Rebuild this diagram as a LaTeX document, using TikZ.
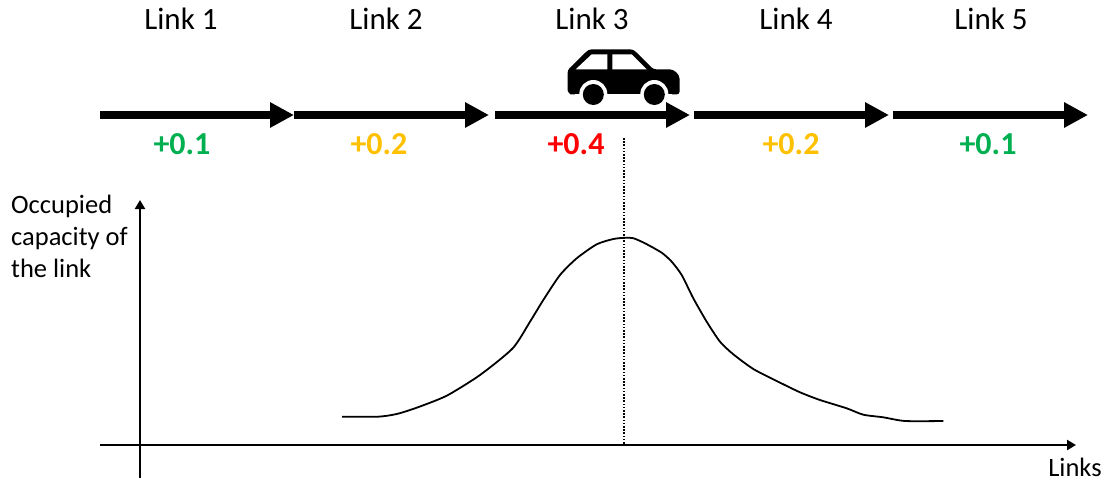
\documentclass[tikz,border=0pt]{standalone}
\usepackage{fontspec}
\setmainfont{Carlito}
\usetikzlibrary{arrows.meta}
\definecolor{lgreen}{HTML}{00B050}
\definecolor{lamber}{HTML}{FFC000}
\definecolor{lred}{HTML}{FF0000}
\tikzset{
  linkarrow/.style={line width=8pt,-{Triangle[length=24pt,width=24pt]}},
  axisarrow/.style={line width=2.4pt,-{Triangle[length=9pt,width=10pt]}},
  linklabel/.style={font=\fontsize{31}{36}\selectfont,inner sep=0pt,anchor=center},
  loadlabel/.style={font=\fontsize{32}{36}\selectfont\bfseries,inner sep=0pt,anchor=center},
  axislabel/.style={font=\fontsize{26.5}{32}\selectfont,inner sep=0pt},
}
\begin{document}
\begin{tikzpicture}[x=1pt,y=-1pt]
\useasboundingbox (0,0) rectangle (1107,480);
% link labels
\node[linklabel] (l1) at (181,19) {Link 1};
\node[linklabel] (l2) at (386,19) {Link 2};
\node[linklabel] (l3) at (592,19) {Link 3};
\node[linklabel] (l4) at (796,19) {Link 4};
\node[linklabel] (l5) at (991,19) {Link 5};
% car
\fill[black,rounded corners=2.5pt] (567.7,70) -- (587,51) -- (590,49.3) -- (632,49.3) -- (635,51) -- (653.5,69.3) -- (667,69.3)
  .. controls (674,69.3) and (679.5,74) .. (679.5,81) -- (679.5,94.3) -- (573,94.3)
  .. controls (570,94.3) and (567.7,92) .. (567.7,88) -- cycle;
\fill[white] (575.7,69.3) -- (591.7,54.3) -- (607.3,54.3) -- (607.3,69.3) -- cycle;
\fill[white] (612.3,54.3) -- (631.7,54.3) -- (646.7,69.3) -- (612.3,69.3) -- cycle;
\fill[white] (593.3,94) circle (14);
\fill[white] (654.3,94) circle (14);
\fill[white] (575,94.3) rectangle (672,100);
\fill[black] (593.3,94.5) circle (10.5);
\fill[black] (654.3,94.5) circle (10.5);
% link arrows
\coordinate (a0) at (100,115);
\coordinate (a1) at (294,115);
\coordinate (b0) at (294,115);
\coordinate (b1) at (489,115);
\coordinate (c0) at (495,115);
\coordinate (c1) at (690,115);
\coordinate (d0) at (694,115);
\coordinate (d1) at (889,115);
\coordinate (e0) at (893,115);
\coordinate (e1) at (1088,115);
\draw[linkarrow] (a0) -- (a1);
\draw[linkarrow] (b0) -- (b1);
\draw[linkarrow] (c0) -- (c1);
\draw[linkarrow] (d0) -- (d1);
\draw[linkarrow] (e0) -- (e1);
% load labels
\node[loadlabel,text=lgreen] (p1) at (182,144) {+0.1};
\node[loadlabel,text=lamber] (p2) at (379,144) {+0.2};
\node[loadlabel,text=lred]   (p3) at (576,144) {+0.4};
\node[loadlabel,text=lamber] (p4) at (791,144) {+0.2};
\node[loadlabel,text=lgreen] (p5) at (988,144) {+0.1};
% axes
\coordinate (xs) at (100,445);
\coordinate (xe) at (1076,445);
\coordinate (ys) at (140,478);
\coordinate (ye) at (140,200);
\draw[axisarrow] (xs) -- (xe);
\draw[axisarrow] (ys) -- (ye);
\node[axislabel,anchor=north west,align=left] (yl) at (11,195) {Occupied\\capacity of\\the link};
\node[axislabel,anchor=center] (xl) at (1075,467) {Links};
% dotted line
\coordinate (ds) at (624,138);
\coordinate (de) at (624,444);
\draw[line width=1.3pt,dash pattern=on 1.6pt off 1.6pt] (ds) -- (de);
% curve
\draw[line width=1.8pt,line join=round] plot[smooth,tension=0.4] coordinates {
(342,416.7) (378,416.7) (396.7,414) (416.7,407.7) (446.7,395.7) (480,375) (512.7,348.3)
(530,321.7) (543.3,300) (560,275) (576.7,258.3) (596.7,244.3) (613.3,239) (625,237.8)
(633.3,238.2) (645,243.3) (661.7,252.7) (671.7,261.7) (681.7,275) (693.3,298.3) (706.7,321.7)
(720,341.7) (733.3,354.3) (753.3,369) (776.7,381) (800,392.3) (820,400) (846.7,408.3)
(863.3,414.7) (883.3,417.3) (905,421) (943.3,421)};
\end{tikzpicture}
\end{document}
